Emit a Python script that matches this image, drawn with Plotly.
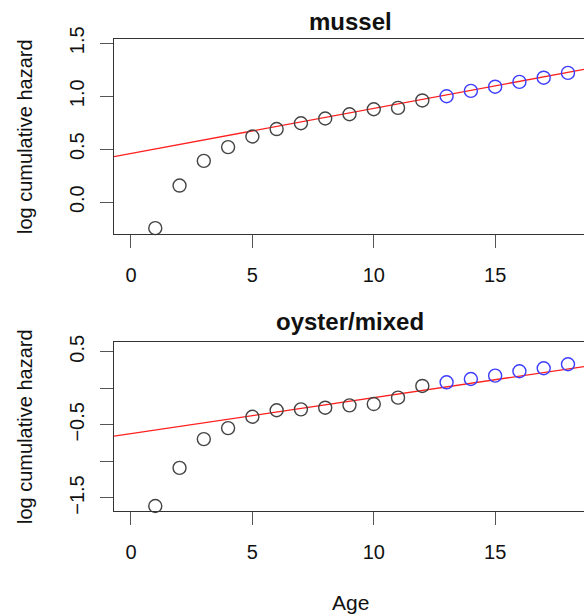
import plotly.graph_objects as go

ages = list(range(1, 19))
n_black = 12  # first 12 ages drawn black, rest blue

mussel_loghaz = [-0.245, 0.157, 0.39, 0.52, 0.62, 0.69, 0.745, 0.79, 0.83, 0.877, 0.89, 0.96,
                 1.0, 1.05, 1.09, 1.135, 1.175, 1.22]
oyster_loghaz = [-1.61, -1.088, -0.695, -0.544, -0.389, -0.30, -0.288, -0.265, -0.233, -0.215,
                 -0.128, 0.032, 0.082, 0.127, 0.173, 0.233, 0.274, 0.329]

mussel_fit = [0.46, 0.0425]   # intercept, slope
oyster_fit = [-0.619, 0.0491]

x_ticks = [0, 5, 10, 15]
mussel_yticks = [0.0, 0.5, 1.0, 1.5]
mussel_yticklabels = ["0.0", "0.5", "1.0", "1.5"]
oyster_yticks = [0.5, 0.0, -0.5, -1.0, -1.5]
oyster_yticklabels = ["0.5", "", "\u22120.5", "", "\u22121.5"]

XR = [-0.70, 18.66]
FONT = "Liberation Sans, Arial, Helvetica, sans-serif"
AX = "#333333"
TK = "#555555"

fig = go.Figure()

def add_panel(vals, fit, xa, ya):
    fig.add_trace(go.Scatter(x=XR, y=[fit[0] + fit[1] * x for x in XR], mode="lines",
                             line=dict(color="#ff2020", width=1.3), xaxis=xa, yaxis=ya,
                             showlegend=False, hoverinfo="skip", cliponaxis=True))
    fig.add_trace(go.Scatter(x=ages[:n_black], y=vals[:n_black], mode="markers",
                             marker=dict(symbol="circle-open", size=13, color="#444444",
                                         line=dict(width=1.4, color="#444444")),
                             xaxis=xa, yaxis=ya, showlegend=False, cliponaxis=False))
    fig.add_trace(go.Scatter(x=ages[n_black:], y=vals[n_black:], mode="markers",
                             marker=dict(symbol="circle-open", size=13, color="#3d3dff",
                                         line=dict(width=1.4, color="#3d3dff")),
                             xaxis=xa, yaxis=ya, showlegend=False, cliponaxis=False))

add_panel(mussel_loghaz, mussel_fit, "x", "y")
add_panel(oyster_loghaz, oyster_fit, "x2", "y2")

xcommon = dict(range=XR, tickvals=x_ticks, ticktext=[str(t) for t in x_ticks],
               showline=True, linecolor=AX, linewidth=1.4, mirror=True,
               ticks="outside", ticklen=13, tickwidth=1.4, tickcolor=TK,
               showgrid=False, zeroline=False, ticklabelstandoff=10,
               tickfont=dict(family=FONT, size=20, color="#111111"))
ycommon = dict(showline=True, linecolor=AX, linewidth=1.4, mirror=False,
               ticks="outside", ticklen=13, tickwidth=1.4, tickcolor=TK,
               showgrid=False, zeroline=False, tickangle=-90, ticklabelstandoff=8,
               tickfont=dict(family=FONT, size=20, color="#111111"))

fig.update_layout(
    width=584, height=616,
    margin=dict(l=114, r=0, t=39, b=105),
    plot_bgcolor="white", paper_bgcolor="white",
    xaxis=dict(xcommon, anchor="y", domain=[0, 1]),
    yaxis=dict(ycommon, anchor="x", domain=[0.5869, 1.0], range=[-0.30, 1.54],
               tickvals=mussel_yticks, ticktext=mussel_yticklabels),
    xaxis2=dict(xcommon, anchor="y2", domain=[0, 1]),
    yaxis2=dict(ycommon, anchor="x2", domain=[0.0, 0.3574], range=[-1.678, 0.629],
                tickvals=oyster_yticks, ticktext=oyster_yticklabels),
)

def ypaper(pix):
    return (511 - pix) / 472

def xpaper(pix):
    return (pix - 114) / 470

anns = [
    dict(text="<b>mussel</b>", x=xpaper(350), y=ypaper(21), size=24, angle=0),
    dict(text="<b>oyster/mixed</b>", x=xpaper(350), y=ypaper(321), size=24, angle=0),
    dict(text="log cumulative hazard", x=xpaper(25), y=ypaper(137), size=20, angle=-90),
    dict(text="log cumulative hazard", x=xpaper(25), y=ypaper(427), size=20, angle=-90),
    dict(text="Age", x=xpaper(350), y=ypaper(602), size=21, angle=0),
]
for a in anns:
    fig.add_annotation(text=a["text"], x=a["x"], y=a["y"], xref="paper", yref="paper",
                       xanchor="center", yanchor="middle", showarrow=False,
                       textangle=a["angle"], font=dict(family=FONT, size=a["size"], color="#111111"))

fig.write_html("out.html")
